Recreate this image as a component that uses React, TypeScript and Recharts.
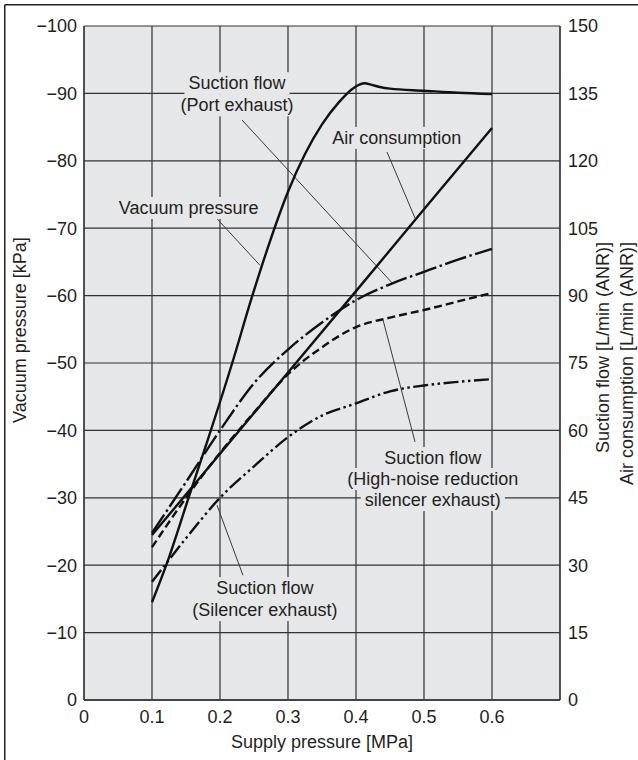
import React from 'react';
import {
  LineChart,
  Line,
  XAxis,
  YAxis,
  CartesianGrid,
  ReferenceLine,
  ReferenceDot,
  Label,
} from 'recharts';

// ---------- data ----------
const xTicks = [0, 0.1, 0.2, 0.3, 0.4, 0.5, 0.6];
const xTickLabels = ['0', '0.1', '0.2', '0.3', '0.4', '0.5', '0.6'];
const leftTicks = [-100, -90, -80, -70, -60, -50, -40, -30, -20, -10, 0];
const rightTicks = [0, 15, 30, 45, 60, 75, 90, 105, 120, 135, 150];

// Vacuum pressure [kPa]
const vacuumX = [0.1, 0.122, 0.156, 0.182, 0.218, 0.247, 0.274, 0.3, 0.325, 0.35, 0.375, 0.395, 0.405, 0.413, 0.422, 0.435, 0.45, 0.5, 0.55, 0.6];
const vacuumKPa = [-14.5, -20.3, -30.7, -38.6, -50.0, -59.8, -68.2, -75.4, -81.0, -85.4, -88.7, -90.7, -91.3, -91.5, -91.3, -90.95, -90.7, -90.4, -90.1, -89.9];

// Air consumption [L/min (ANR)]
const airX = [0.1, 0.2, 0.3, 0.4, 0.5, 0.6];
const airFlow = [36.7, 54.8, 72.9, 91.0, 109.2, 127.3];

// Suction flow (Port exhaust) [L/min (ANR)]
const portX = [0.1, 0.15, 0.2, 0.25, 0.3, 0.35, 0.4, 0.45, 0.5, 0.55, 0.6];
const portFlow = [37.2, 48.5, 60.0, 70.5, 78.0, 84.0, 89.0, 92.5, 95.3, 98.0, 100.4];

// Suction flow (High-noise reduction silencer exhaust) [L/min (ANR)]
const highNoiseX = [0.1, 0.15, 0.2, 0.25, 0.3, 0.35, 0.4, 0.45, 0.5, 0.55, 0.6];
const highNoiseFlow = [34.0, 45.0, 55.0, 64.0, 72.5, 78.5, 83.0, 85.1, 86.8, 88.7, 90.6];

// Suction flow (Silencer exhaust) [L/min (ANR)]
const silencerX = [0.1, 0.15, 0.2, 0.25, 0.3, 0.35, 0.4, 0.45, 0.5, 0.55, 0.6];
const silencerFlow = [26.3, 36.0, 45.0, 52.0, 58.5, 63.3, 66.0, 68.7, 70.0, 70.8, 71.4];

const zip = (xs: number[], ys: number[]) => xs.map((x, i) => ({ x, y: ys[i] }));

const vacuumData = zip(vacuumX, vacuumKPa);
const airData = zip(airX, airFlow);
const portData = zip(portX, portFlow);
const highNoiseData = zip(highNoiseX, highNoiseFlow);
const silencerData = zip(silencerX, silencerFlow);

// ---------- annotations (left-axis / kPa coordinates) ----------
const annotations = [
  { lines: ['Suction flow', '(Port exhaust)'], x: 0.225, y: -91.5, step: 22 },
  { lines: ['Vacuum pressure'], x: 0.154, y: -73.0, step: 22 },
  { lines: ['Air consumption'], x: 0.46, y: -83.4, step: 22 },
  { lines: ['Suction flow', '(High-noise reduction', 'silencer exhaust)'], x: 0.513, y: -35.9, step: 21 },
  { lines: ['Suction flow', '(Silencer exhaust)'], x: 0.266, y: -16.6, step: 22 },
];

const leaders = [
  [{ x: 0.2324, y: -86.05 }, { x: 0.453, y: -61.9 }],
  [{ x: 0.1956, y: -71.4 }, { x: 0.2588, y: -64.5 }],
  [{ x: 0.4456, y: -81.3 }, { x: 0.4868, y: -71.5 }],
  [{ x: 0.4868, y: -38.3 }, { x: 0.4397, y: -56.4 }],
  [{ x: 0.2338, y: -18.5 }, { x: 0.1956, y: -28.9 }],
];

// ---------- style ----------
const FONT = '"Liberation Sans", Arial, Helvetica, sans-serif';
const INK = '#231f20';
const BG = '#e6e7e8';
const GRID = '#333333';
const FS = 18;

let ctx: CanvasRenderingContext2D | null = null;
const measure = (s: string) => {
  if (!ctx) {
    ctx = document.createElement('canvas').getContext('2d');
  }
  if (!ctx) return s.length * 9;
  ctx.font = `${FS}px "Liberation Sans"`;
  return ctx.measureText(s).width;
};

const makeShape = (lines: string[], step: number) => (props: any) => {
  const { cx, cy } = props;
  if (cx == null || cy == null) return null;
  return (
    <g>
      {lines.map((t, i) => {
        const w = measure(t) + 8;
        return (
          <rect key={'r' + i} x={cx - w / 2} y={cy + i * step - 11} width={w} height={22} fill={BG} />
        );
      })}
      {lines.map((t, i) => (
        <text
          key={'t' + i}
          x={cx}
          y={cy + i * step}
          textAnchor="middle"
          dominantBaseline="central"
          fontSize={FS}
          fontFamily={FONT}
          fill={INK}
        >
          {t}
        </text>
      ))}
    </g>
  );
};

const fmtLeft = (v: number) => (v === 0 ? '0' : '\u2212' + Math.abs(v));
const fmtX = (v: number) => {
  const i = xTicks.indexOf(v);
  return i >= 0 ? xTickLabels[i] : String(v);
};

const W = 638;
const H = 760;

const txt = { fontSize: FS, fontFamily: FONT, fill: INK };

export default function App() {
  const tickStyle = { fontSize: FS, fill: INK, fontFamily: FONT };
  return (
    <div style={{ position: 'absolute', left: 0, top: 0, width: W, height: H }}>
      <LineChart width={W} height={H} margin={{ top: 26, right: 0, bottom: 0, left: 0 }}>
        <CartesianGrid yAxisId="left" stroke={GRID} strokeWidth={1.2} fill={BG} fillOpacity={1} />
        <XAxis
          dataKey="x"
          type="number"
          domain={[0, 0.7]}
          ticks={xTicks}
          tickFormatter={fmtX}
          allowDataOverflow
          height={60}
          tickLine={false}
          tickSize={0}
          tickMargin={10}
          axisLine={{ stroke: '#444', strokeWidth: 2 }}
          tick={tickStyle}
          interval={0}
        >
          <Label
            content={() => (
              <g>
                <line x1={4.75} y1={4.75} x2={638} y2={4.75} stroke={INK} strokeWidth={1.5} />
                <line x1={4.75} y1={4.75} x2={4.75} y2={760} stroke={INK} strokeWidth={1.5} />
                <text x={322} y={742} textAnchor="middle" dominantBaseline="central" {...txt}>
                  Supply pressure [MPa]
                </text>
              </g>
            )}
          />
        </XAxis>
        <YAxis
          yAxisId="left"
          orientation="left"
          type="number"
          domain={[-100, 0]}
          reversed
          ticks={leftTicks}
          tickFormatter={fmtLeft}
          width={84}
          tickLine={false}
          tickSize={0}
          tickMargin={7}
          axisLine={{ stroke: GRID, strokeWidth: 1.2 }}
          tick={tickStyle}
          interval={0}
        >
          <Label
            content={() => (
              <text
                x={20}
                y={330}
                transform="rotate(-90, 20, 330)"
                textAnchor="middle"
                dominantBaseline="central"
                {...txt}
              >
                Vacuum pressure [kPa]
              </text>
            )}
          />
        </YAxis>
        <YAxis
          yAxisId="right"
          orientation="right"
          type="number"
          domain={[0, 150]}
          ticks={rightTicks}
          width={78}
          tickLine={false}
          tickSize={0}
          tickMargin={8}
          axisLine={{ stroke: GRID, strokeWidth: 1.2 }}
          tick={tickStyle}
          interval={0}
        >
          <Label
            content={() => (
              <g>
                <text
                  x={603}
                  y={242}
                  transform="rotate(-90, 603, 242)"
                  textAnchor="end"
                  dominantBaseline="central"
                  {...txt}
                >
                  Suction flow [L/min (ANR)]
                </text>
                <text
                  x={627}
                  y={242}
                  transform="rotate(-90, 627, 242)"
                  textAnchor="end"
                  dominantBaseline="central"
                  {...txt}
                >
                  Air consumption [L/min (ANR)]
                </text>
              </g>
            )}
          />
        </YAxis>

        {annotations.map((a, i) => (
          <ReferenceDot
            key={'a' + i}
            yAxisId="left"
            x={a.x}
            y={a.y}
            r={0}
            shape={makeShape(a.lines, a.step)}
          />
        ))}
        {leaders.map((seg, i) => (
          <ReferenceLine key={'l' + i} yAxisId="left" segment={seg} stroke="#3a3a3a" strokeWidth={1} />
        ))}

        <Line
          data={silencerData}
          dataKey="y"
          yAxisId="right"
          type="monotone"
          stroke="#111"
          strokeWidth={2.4}
          strokeDasharray="15 3.5 2.5 3.5 2.5 3.5"
          dot={false}
          isAnimationActive={false}
        />
        <Line
          data={highNoiseData}
          dataKey="y"
          yAxisId="right"
          type="monotone"
          stroke="#111"
          strokeWidth={2.4}
          strokeDasharray="8 4"
          dot={false}
          isAnimationActive={false}
        />
        <Line
          data={portData}
          dataKey="y"
          yAxisId="right"
          type="monotone"
          stroke="#111"
          strokeWidth={2.4}
          strokeDasharray="22 3.5 2.5 3.5"
          dot={false}
          isAnimationActive={false}
        />
        <Line
          data={airData}
          dataKey="y"
          yAxisId="right"
          type="linear"
          stroke="#111"
          strokeWidth={2.4}
          dot={false}
          isAnimationActive={false}
        />
        <Line
          data={vacuumData}
          dataKey="y"
          yAxisId="left"
          type="monotone"
          stroke="#111"
          strokeWidth={2.4}
          dot={false}
          isAnimationActive={false}
        />
      </LineChart>
    </div>
  );
}
